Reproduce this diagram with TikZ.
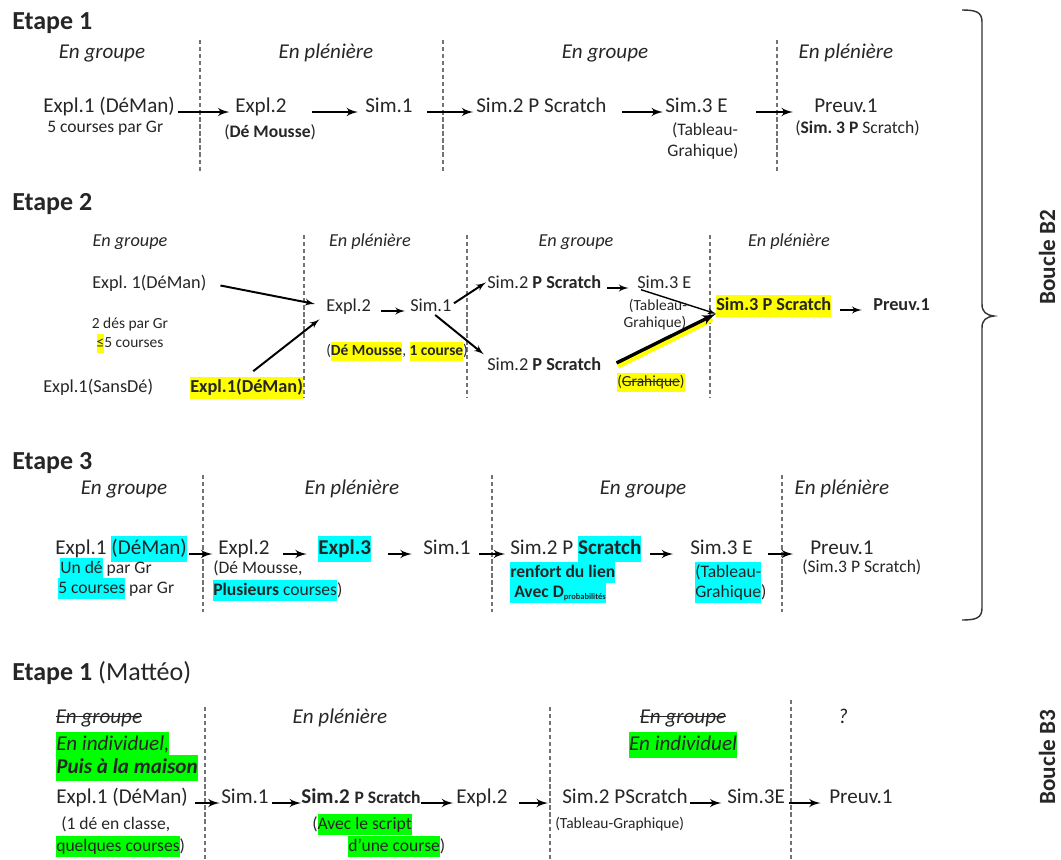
\documentclass[tikz,border=0pt]{standalone}
\usepackage{fontspec}
\setmainfont{Carlito}
\usepackage{tikz}
\usetikzlibrary{shapes,arrows,positioning,calc}
\definecolor{jaune}{HTML}{FFFF00}
\definecolor{turquoise}{HTML}{00FFFF}
\definecolor{vert}{HTML}{00FF00}
\definecolor{encre}{HTML}{262626}
\frenchspacing
\newcommand{\grand}{\fontsize{15}{18}\selectfont}
\newcommand{\moyen}{\fontsize{13}{15.6}\selectfont}
\newcommand{\petit}{\fontsize{12.5}{15}\selectfont}
\newcommand{\mini}{\fontsize{11}{13.2}\selectfont}
\newcommand{\surl}[2]{{\setlength{\fboxsep}{0pt}\colorbox{#1}{\strut #2}}}
\newlength{\largeur}
\newcommand{\rayer}[1]{\settowidth{\largeur}{#1}\rlap{\rule[0.28em]{\largeur}{0.6pt}}#1}
\tikzstyle{titre} = [anchor=base west, inner sep=0pt, font=\fontsize{18.5}{22}\selectfont\bfseries]
\tikzstyle{entete} = [anchor=base, inner sep=0pt]
\tikzstyle{etat} = [anchor=base west, inner sep=0pt]
\tikzstyle{pointille} = [draw=black!55, dash pattern=on 3pt off 2pt, line width=0.8pt]
\tikzstyle{fleche} = [->, line width=1.8pt]
\tikzstyle{boucle} = [rotate=90, inner sep=0pt, font=\fontsize{16.5}{19}\selectfont\bfseries]

\begin{document}
\begin{tikzpicture}[x=0.25mm, y=-0.25mm, >=latex', text=encre]
    \useasboundingbox (0,0) rectangle (1061,859);

    % Etape 1
    \node [titre] (t1) at (12,29) {Etape 1};
    \node [entete, font=\grand\itshape] (g1a) at (102,58) {En groupe};
    \node [entete, font=\grand\itshape] (g1b) at (326,58) {En plénière};
    \node [entete, font=\grand\itshape] (g1c) at (605,58) {En groupe};
    \node [entete, font=\grand\itshape] (g1d) at (846,58) {En plénière};
    \draw [pointille] (200,40) -- (200,173);
    \draw [pointille] (443,40) -- (443,173);
    \draw [pointille] (777,40) -- (777,173);
    \node [etat, font=\grand] (e1a) at (43,112) {Expl.1 (DéMan)};
    \node [etat, font=\petit] (n1a) at (47,132) {5 courses par Gr};
    \node [etat, font=\grand] (e1b) at (235,112) {Expl.2};
    \node [etat, font=\petit] (n1b) at (224,137) {(\textbf{Dé Mousse})};
    \node [etat, font=\grand] (e1c) at (365,112) {Sim.1};
    \node [etat, font=\grand] (e1d) at (476,112) {Sim.2 P Scratch};
    \node [etat, font=\grand] (e1e) at (665,112) {Sim.3 E};
    \node [entete, font=\petit] (n1c) at (705,135) {(Tableau-};
    \node [entete, font=\petit] (n1d) at (703,156) {Grahique)};
    \node [etat, font=\grand] (e1f) at (814,112) {Preuv.1};
    \node [etat, font=\petit] (n1e) at (795,133) {(\textbf{Sim. 3 P} Scratch)};

    % Etape 2
    \node [titre] (t2) at (12,210) {Etape 2};
    \node [entete, font=\moyen\itshape] (g2a) at (130,246) {En groupe};
    \node [entete, font=\moyen\itshape] (g2b) at (370,246) {En plénière};
    \node [entete, font=\moyen\itshape] (g2c) at (576,246) {En groupe};
    \node [entete, font=\moyen\itshape] (g2d) at (789,246) {En plénière};
    \draw [pointille] (304,235) -- (304,398);
    \draw [pointille] (467,235) -- (467,398);
    \draw [pointille] (710,235) -- (710,398);
    \node [etat, font=\moyen] (e2a) at (92,288) {Expl. 1(DéMan)};
    \node [entete, font=\mini] (n2a) at (130,328) {2 dés par Gr};
    \node [entete, font=\mini] (n2b) at (130,347) {\surl{jaune}{≤}5 courses};
    \node [etat, font=\moyen] (e2b) at (43,392) {Expl.1(SansDé)};
    \node [etat, font=\moyen] (e2c) at (190,392) {\surl{jaune}{\textbf{Expl.1(DéMan)}}};
    \node [etat, font=\moyen] (e2d) at (326,311) {Expl.2};
    \node [etat, font=\moyen] (e2e) at (410,311) {Sim.1};
    \node [etat, font=\mini] (n2c) at (326,355) {(\surl{jaune}{\textbf{Dé Mousse}}, \surl{jaune}{\textbf{1 course}})};
    \node [etat, font=\moyen] (e2g) at (487,288) {Sim.2 \textbf{P Scratch}};
    \node [etat, font=\moyen] (e2h) at (487,370) {Sim.2 \textbf{P Scratch}};
    \node [etat, font=\moyen] (e2i) at (637,288) {Sim.3 E};
    \node [entete, font=\mini] (n2d) at (658,310) {(Tableau-};
    \node [entete, font=\mini] (n2e) at (655,327) {Grahique)};
    \node [etat, font=\mini] (n2f) at (617,386) {\surl{jaune}{(\rayer{Grahique})}};
    \node [etat, font=\moyen] (e2k) at (716,310) {\surl{jaune}{\textbf{Sim.3 P Scratch}}};
    \node [etat, font=\moyen] (e2l) at (873,310) {\textbf{Preuv.1}};

    % Etape 3
    \node [titre] (t3) at (12,469) {Etape 3};
    \node [entete, font=\grand\itshape] (g3a) at (124,494) {En groupe};
    \node [entete, font=\grand\itshape] (g3b) at (352,494) {En plénière};
    \node [entete, font=\grand\itshape] (g3c) at (643,494) {En groupe};
    \node [entete, font=\grand\itshape] (g3d) at (842,494) {En plénière};
    \draw [pointille] (203,475) -- (203,612);
    \draw [pointille] (492,475) -- (492,612);
    \draw [pointille] (782,475) -- (782,612);
    \node [etat, font=\grand] (e3a) at (55,554) {Expl.1 \surl{turquoise}{(DéMan)}};
    \node [etat, font=\petit] (n3a) at (60,573) {\surl{turquoise}{Un dé} par Gr};
    \node [etat, font=\petit] (n3b) at (58,593) {\surl{turquoise}{5 courses} par Gr};
    \node [etat, font=\grand] (e3b) at (218,554) {Expl.2};
    \node [etat, font=\petit] (n3c) at (213,573) {(Dé Mousse,};
    \node [etat, font=\petit] (n3d) at (213,595) {\surl{turquoise}{\textbf{Plusieurs} courses})};
    \node [etat, font=\grand] (e3c) at (318,554) {\surl{turquoise}{\textbf{Expl.3}}};
    \node [etat, font=\grand] (e3d) at (423,554) {Sim.1};
    \node [etat, font=\grand] (e3e) at (510,554) {Sim.2 P \surl{turquoise}{\textbf{Scratch}}};
    \node [etat, font=\petit] (n3e) at (510,577) {\surl{turquoise}{\textbf{renfort du lien}}};
    \node [etat, font=\petit] (n3f) at (510,597) {\surl{turquoise}{\textbf{~Avec D\raisebox{-1.5pt}{\fontsize{6}{7}\selectfont probabilités}}}};
    \node [etat, font=\grand] (e3f) at (690,554) {Sim.3 E};
    \node [etat, font=\petit] (n3g) at (695,577) {\surl{turquoise}{(Tableau-}};
    \node [etat, font=\petit] (n3h) at (695,597) {\surl{turquoise}{Grahique})};
    \node [etat, font=\grand] (e3g) at (810,554) {Preuv.1};
    \node [etat, font=\petit] (n3i) at (802,572) {(Sim.3 P Scratch)};

    % Etape 1 (Matteo)
    \node [titre] (t4) at (12,680) {Etape 1 \textmd{(Mattéo)}};
    \node [entete, font=\grand\itshape] (g4a) at (99,723) {\rayer{En groupe}};
    \node [entete, font=\grand\itshape] (g4b) at (340,723) {En plénière};
    \node [entete, font=\grand\itshape] (g4c) at (683,723) {\rayer{En groupe}};
    \node [entete, font=\grand\itshape] (g4d) at (843,723) {?};
    \node [etat, font=\grand\itshape] (i4a) at (56,750) {\surl{vert}{En individuel,}};
    \node [etat, font=\grand\itshape] (i4b) at (56,773) {\surl{vert}{\textbf{Puis à la maison}}};
    \node [entete, font=\grand\itshape] (i4c) at (683,750) {\surl{vert}{En individuel}};
    \draw [pointille] (205,707) -- (205,859);
    \draw [pointille] (550,707) -- (550,859);
    \draw [pointille] (791,700) -- (791,859);
    \node [etat, font=\grand] (e4a) at (56,803) {Expl.1 (DéMan)};
    \node [etat, font=\petit] (n4a) at (61,829) {(1 dé en classe,};
    \node [etat, font=\petit] (n4b) at (56,851) {\surl{vert}{quelques courses})};
    \node [etat, font=\grand] (e4b) at (221,803) {Sim.1};
    \node [etat, font=\grand] (e4c) at (301,803) {\textbf{Sim.2} {\petit\bfseries P Scratch}};
    \node [etat, font=\petit] (n4c) at (312,829) {(\surl{vert}{Avec le script}};
    \node [etat, font=\petit] (n4d) at (348,851) {\surl{vert}{d'une course})};
    \node [etat, font=\grand] (e4d) at (456,803) {Expl.2};
    \node [etat, font=\grand] (e4e) at (562,803) {Sim.2 PScratch};
    \node [etat, font=\mini] (n4e) at (555,828) {(Tableau-Graphique)};
    \node [etat, font=\grand] (e4f) at (727,803) {Sim.3E};
    \node [etat, font=\grand] (e4g) at (829,803) {Preuv.1};

    % Boucles
    \draw [line width=1pt, black!80] (962,10) .. controls (976,10) and (982,12) .. (982,22) -- (982,304)
        .. controls (982,312) and (986,315) .. (994,316) .. controls (986,317) and (982,320) .. (982,328)
        -- (982,608) .. controls (982,618) and (976,620) .. (962,620);
    \node [boucle] (b2) at (1047,257) {Boucle B2};
    \node [boucle] (b3) at (1047,757) {Boucle B3};

    % Connections
    \draw [fleche, shorten <=2pt, shorten >=4pt] (e1a.base east) -- (e1b.base west);
    \draw [fleche, shorten <=18pt, shorten >=5pt] (e1b.base east) -- (e1c.base west);
    \draw [fleche, shorten <=10pt, shorten >=2pt] (e1c.base east) -- (e1d.base west);
    \draw [fleche, shorten <=11pt, shorten >=1.5pt] (e1d.base east) -- (e1e.base west);
    \draw [fleche, shorten <=20pt, shorten >=15pt] (e1e.base east) -- (e1f.base west);

    \draw [fleche, line width=1.4pt, shorten <=10pt, shorten >=8pt] (e2a.east) -- (e2d.west);
    \draw [fleche, line width=1.4pt, shorten <=6pt, shorten >=6pt] (e2c.north) -- (e2d.south west);
    \draw [fleche, line width=1.4pt, shorten <=7pt, shorten >=3.5pt] (e2d.base east) -- (e2e.base west);
    \draw [fleche, line width=1.4pt, shorten <=2pt, shorten >=1pt] (e2e.east) -- (e2g.west);
    \draw [fleche, line width=1.4pt, shorten <=4pt, shorten >=3pt] (e2e.south) -- (e2h.north west);
    \draw [fleche, line width=1.4pt, shorten <=4pt, shorten >=6pt] (e2g.base east) -- (e2i.base west);
    \draw [->, line width=1pt, shorten <=3pt] (e2i.south west) -- (e2k.188);
    \draw [jaune, line width=4pt, shorten <=12pt, shorten >=4pt, transform canvas={xshift=1pt, yshift=-2pt}] (e2h.south east) -- (e2k.188);
    \draw [->, line width=2.4pt, shorten <=12pt] (e2h.south east) -- (e2k.188);
    \draw [fleche, line width=1.4pt, shorten <=6pt, shorten >=8pt] (e2k.base east) -- (e2l.base west);

    \draw [fleche, shorten <=1pt, shorten >=4pt] (e3a.base east) -- (e3b.base west);
    \draw [fleche, shorten <=9pt, shorten >=8pt] (e3b.base east) -- (e3c.base west);
    \draw [fleche, shorten <=12pt, shorten >=8pt] (e3c.base east) -- (e3d.base west);
    \draw [fleche, shorten <=6pt, shorten >=3.5pt] (e3d.base east) -- (e3e.base west);
    \draw [fleche, shorten <=6pt, shorten >=12pt] (e3e.base east) -- (e3f.base west);
    \draw [fleche, shorten <=11pt, shorten >=12pt] (e3f.base east) -- (e3g.base west);

    \draw [fleche, shorten <=5pt, shorten >=1pt] (e4a.base east) -- (e4b.base west);
    \draw [fleche, shorten <=2pt, shorten >=0pt] (e4b.base east) -- (e4c.base west);
    \draw [fleche, shorten <=0pt, shorten >=2pt] (e4c.base east) -- (e4d.base west);
    \draw [fleche, shorten <=8pt, shorten >=10pt] (e4d.base east) -- (e4e.base west);
    \draw [fleche, shorten <=1.5pt, shorten >=4pt] (e4e.base east) -- (e4f.base west);
    \draw [fleche, shorten <=3pt, shorten >=6pt] (e4f.base east) -- (e4g.base west);
\end{tikzpicture}
\end{document}
